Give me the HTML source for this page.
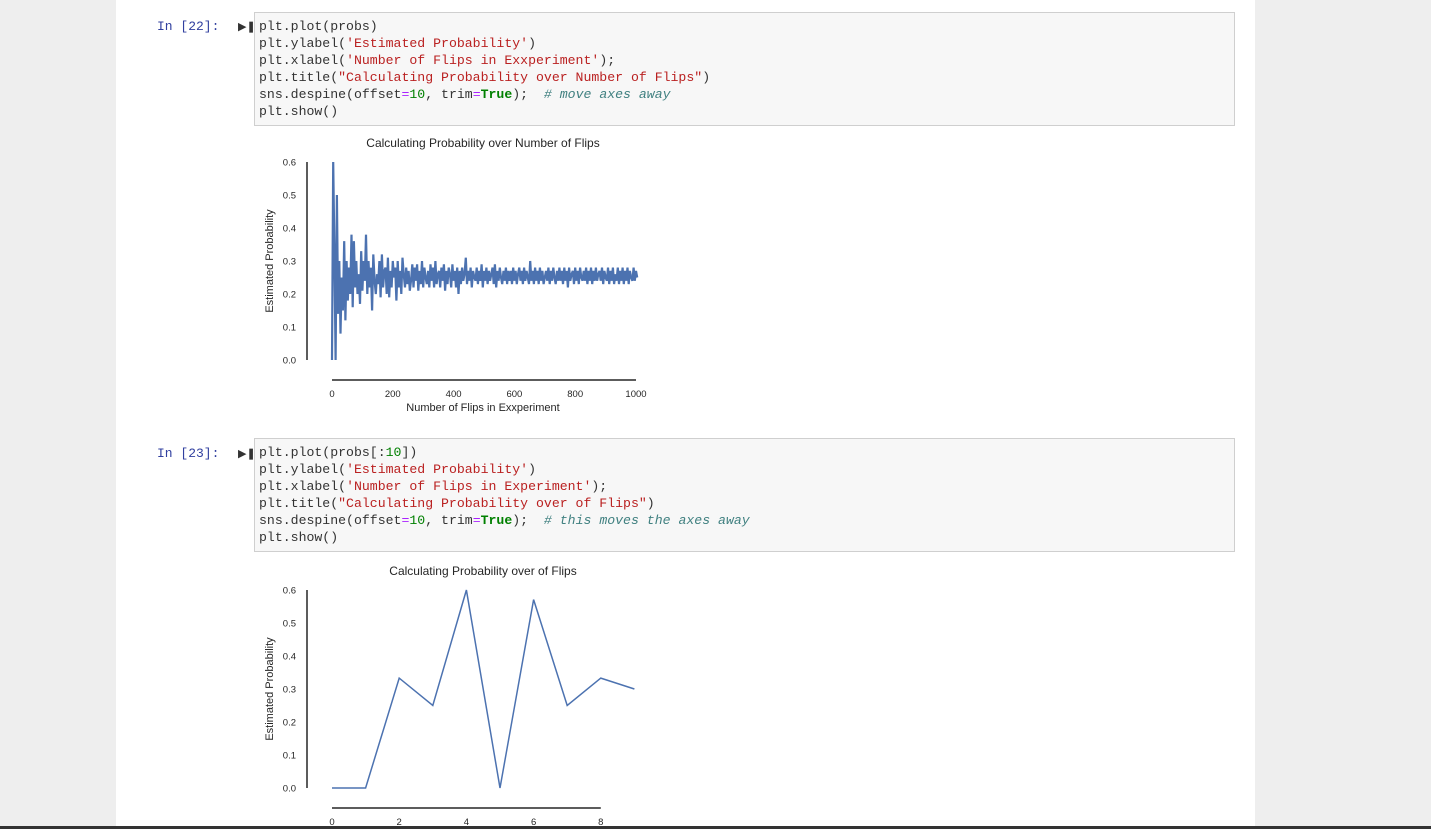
<!DOCTYPE html>
<html><head><meta charset="utf-8">
<style>
body{margin:0;width:1431px;height:829px;background:#eeeeee;overflow:hidden;position:relative;font-family:"Liberation Sans",sans-serif}
#nb{position:absolute;left:116px;top:0;width:1139px;height:829px;background:#fff}
.prompt{position:absolute;left:157px;font-family:"Liberation Mono",monospace;font-size:13px;color:#303f9f}
.runicon{position:absolute;left:238px;font-size:11px;color:#333}
.cell{position:absolute;left:254px;width:979px;height:112px;background:#f7f7f7;border:1px solid #cfcfcf}
.code{position:absolute;left:4px;top:5px;font-family:"Liberation Mono",monospace;font-size:13.2px;line-height:17px;color:#333;white-space:pre}
.s{color:#ba2121}.n{color:#008000}.k{color:#008000;font-weight:bold}.o{color:#aa22ff}.c{color:#408080;font-style:italic}
#bar{position:absolute;left:0;top:826px;width:1431px;height:3px;background:#333}
svg{position:absolute;left:0;top:0}
</style></head><body>
<div id="nb"></div>
<div class="prompt" style="top:19px">In [22]:</div>
<div class="runicon" style="top:20px">&#9654;&#10074;</div>
<div class="cell" style="top:12px"><div class="code">plt.plot(probs)
plt.ylabel(<span class="s">'Estimated Probability'</span>)
plt.xlabel(<span class="s">'Number of Flips in Exxperiment'</span>);
plt.title(<span class="s">"Calculating Probability over Number of Flips"</span>)
sns.despine(offset<span class="o">=</span><span class="n">10</span>, trim<span class="o">=</span><span class="k">True</span>);  <span class="c"># move axes away</span>
plt.show()</div></div>
<div class="prompt" style="top:446px">In [23]:</div>
<div class="runicon" style="top:447px">&#9654;&#10074;</div>
<div class="cell" style="top:438px"><div class="code">plt.plot(probs[:<span class="n">10</span>])
plt.ylabel(<span class="s">'Estimated Probability'</span>)
plt.xlabel(<span class="s">'Number of Flips in Experiment'</span>);
plt.title(<span class="s">"Calculating Probability over of Flips"</span>)
sns.despine(offset<span class="o">=</span><span class="n">10</span>, trim<span class="o">=</span><span class="k">True</span>);  <span class="c"># this moves the axes away</span>
plt.show()</div></div>
<svg id="chart" width="1431" height="829"></svg>
<div id="bar"></div>
<script>
const yTicks=[0,0.1,0.2,0.3,0.4,0.5,0.6];
const yTickLabels=["0.0","0.1","0.2","0.3","0.4","0.5","0.6"];
const x1Ticks=[0,200,400,600,800,1000];
const x2Ticks=[0,2,4,6,8];
const step1=4;
const probs1=[0,0.6,0.33,0,0.5,0.14,0.3,0.08,0.25,0.15,0.36,0.12,0.3,0.18,0.28,0.2,0.38,0.16,0.36,0.22,0.3,0.2,
0.26,0.17,0.33,0.21,0.3,0.24,0.38,0.2,0.3,0.22,0.28,0.15,0.32,0.24,0.2,0.26,0.23,0.3,0.19,0.32,0.22,0.27,
0.28,0.2,0.31,0.19,0.27,0.22,0.3,0.25,0.28,0.18,0.3,0.22,0.27,0.2,0.31,0.26,0.22,0.28,0.23,0.27,0.21,0.24,
0.29,0.22,0.28,0.24,0.29,0.21,0.27,0.23,0.3,0.22,0.28,0.25,0.23,0.27,0.22,0.29,0.24,0.28,0.22,0.3,0.23,0.26,
0.27,0.22,0.28,0.24,0.29,0.21,0.27,0.23,0.28,0.26,0.22,0.29,0.24,0.27,0.22,0.28,0.2,0.27,0.23,0.28,0.24,0.26,
0.31,0.23,0.27,0.24,0.28,0.22,0.27,0.25,0.24,0.28,0.23,0.27,0.24,0.29,0.22,0.27,0.24,0.28,0.23,0.27,0.24,0.26,
0.28,0.23,0.29,0.22,0.27,0.24,0.28,0.25,0.23,0.27,0.24,0.28,0.23,0.27,0.24,0.27,0.23,0.28,0.24,0.27,0.23,0.26,
0.28,0.24,0.27,0.23,0.28,0.24,0.27,0.25,0.23,0.3,0.24,0.27,0.23,0.28,0.24,0.27,0.23,0.28,0.24,0.27,0.23,0.25,
0.27,0.24,0.28,0.23,0.27,0.24,0.28,0.25,0.23,0.27,0.24,0.28,0.24,0.27,0.23,0.28,0.24,0.27,0.22,0.28,0.24,0.26,
0.27,0.23,0.28,0.24,0.27,0.23,0.28,0.25,0.24,0.27,0.24,0.28,0.23,0.27,0.24,0.28,0.23,0.27,0.24,0.28,0.24,0.26,
0.27,0.24,0.28,0.23,0.27,0.25,0.24,0.28,0.23,0.27,0.24,0.28,0.23,0.26,0.24,0.28,0.23,0.27,0.24,0.28,0.23,0.27,
0.24,0.28,0.23,0.27,0.25,0.24,0.28,0.24,0.27,0.25];
const probs2=[0,0,0.333,0.25,0.6,0,0.571,0.25,0.333,0.3];
const NS="http://www.w3.org/2000/svg";
const svg=document.getElementById('chart');
function el(t,a,txt){const e=document.createElementNS(NS,t);for(const k in a)e.setAttribute(k,a[k]);if(txt!==undefined)e.textContent=txt;svg.appendChild(e);return e;}
function drawChart(cfg){
  const ys=v=>cfg.y0-v*330;
  const xs=v=>cfg.x0+v*cfg.kx;
  let e=el('text',{x:cfg.tx,y:cfg.y0-213,'font-size':12,'text-anchor':'middle',fill:'#262626'},cfg.title);
  
  
  e=el('line',{x1:307,x2:307,y1:ys(0.6),y2:ys(0),stroke:'#262626','stroke-width':1.5});
  
  
  yTicks.forEach((t,i)=>{const l=el('text',{x:296,y:ys(t)+3.5,'font-size':9.5,'text-anchor':'end',fill:'#262626'},yTickLabels[i]);
    
    });
  e=el('text',{transform:`translate(273,${ys(0.3)}) rotate(-90)`,'font-size':11,'text-anchor':'middle',fill:'#262626'},'Estimated Probability');
  
  
  const xt=cfg.xticks;
  e=el('line',{x1:xs(xt[0]),x2:xs(xt[xt.length-1]),y1:cfg.y0+20,y2:cfg.y0+20,stroke:'#262626','stroke-width':1.5});
  
  
  xt.forEach(t=>{const l=el('text',{x:xs(t),y:cfg.y0+37,'font-size':9.5,'text-anchor':'middle',fill:'#262626'},String(t));
    
    });
  if(cfg.xlabel){e=el('text',{x:cfg.tx,y:cfg.y0+51,'font-size':11,'text-anchor':'middle',fill:'#262626'},cfg.xlabel);
    
    }
  const pts=cfg.data.map((v,i)=>xs(i*cfg.step).toFixed(1)+','+ys(v).toFixed(1)).join(' ');
  e=el('polyline',{points:pts,fill:'none',stroke:'#4c72b0','stroke-width':cfg.sw,'stroke-linejoin':'miter'});
  
  
}
drawChart({x0:332,kx:0.304,y0:360,tx:483,title:'Calculating Probability over Number of Flips',xlabel:'Number of Flips in Exxperiment',xticks:x1Ticks,data:probs1,step:step1,sw:2.2});
drawChart({x0:332,kx:33.6,y0:788,tx:483,title:'Calculating Probability over of Flips',xlabel:null,xticks:x2Ticks,data:probs2,step:1,sw:1.5});
</script>
</body></html>
